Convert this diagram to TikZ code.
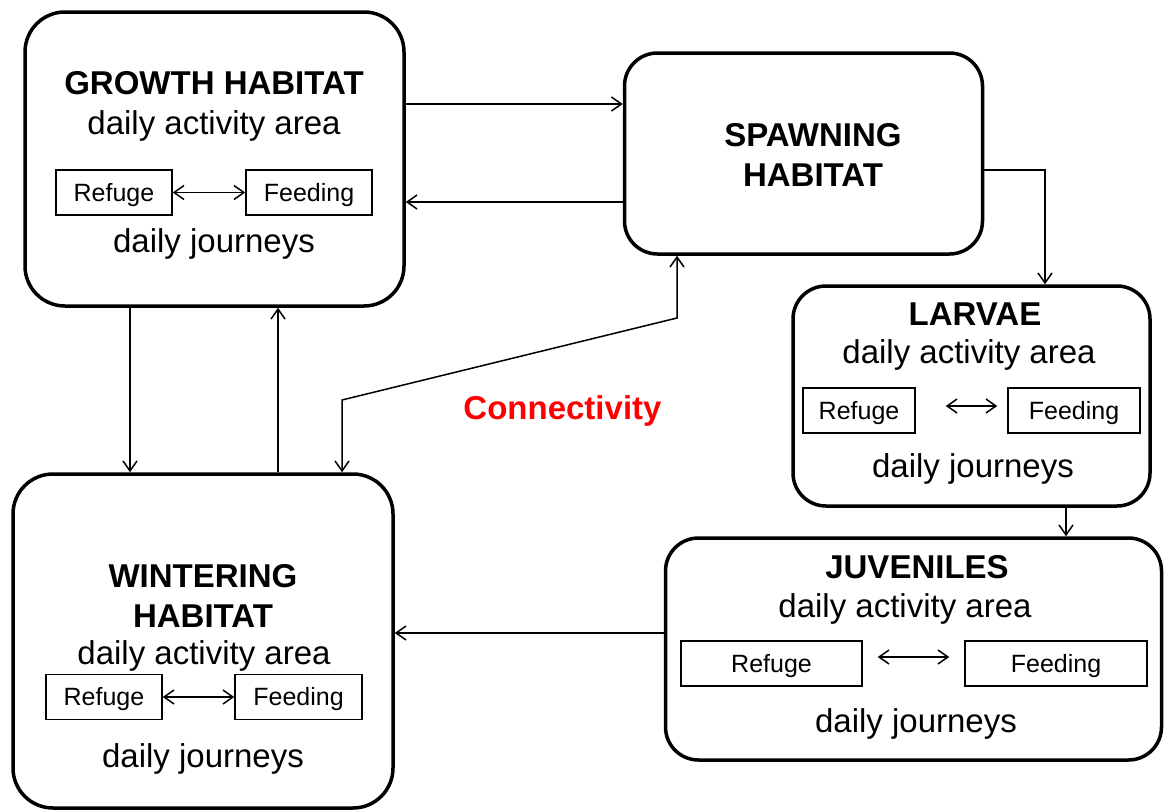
\documentclass[tikz,border=0pt]{standalone}
\usepackage{fontspec}
\setmainfont{Liberation Sans}
\usetikzlibrary{arrows.meta}

\begin{document}
\begin{tikzpicture}[x=1pt,y=-1pt,
  habitat/.style={draw,line width=3.5pt,rounded corners=40pt,inner sep=0pt},
  stage/.style={draw,line width=3.5pt,rounded corners=33pt,inner sep=0pt},
  spot/.style={draw,line width=1.5pt,inner sep=0pt,minimum height=45pt,text height=18pt,text depth=1pt,font=\fontsize{25}{30}\selectfont},
  big/.style={anchor=base,inner sep=0pt,font=\fontsize{33}{40}\selectfont},
  heading/.style={big,font=\fontsize{33}{40}\selectfont\bfseries},
  link/.style={line width=1.5pt,-{Straight Barb[length=10pt,width=14pt]}},
  twoway/.style={line width=1.5pt,{Straight Barb[length=10pt,width=14pt]}-{Straight Barb[length=10pt,width=14pt]}}]
\useasboundingbox (0,0) rectangle (1165,811);

% habitats and stages
\node (growth) [habitat,minimum width=379pt,minimum height=294pt] at (214.5,159) {};
\node (spawning) [stage,minimum width=358pt,minimum height=201pt] at (803.5,153.5) {};
\node (larvae) [stage,minimum width=357pt,minimum height=220pt] at (971.5,396) {};
\node (juveniles) [stage,minimum width=496pt,minimum height=222pt] at (913.5,649) {};
\node (wintering) [habitat,minimum width=380pt,minimum height=334pt] at (203,641) {};

% growth habitat
\node (growthT) [heading] at (214,94) {GROWTH HABITAT};
\node (growthA) [big] at (214,134) {daily activity area};
\node (growthR) [spot,minimum width=116pt] at (114,192.5) {Refuge};
\node (growthF) [spot,minimum width=126pt] at (309,192.5) {Feeding};
\node (growthJ) [big] at (214,252) {daily journeys};
\draw[twoway] (growthR) -- (growthF);

% spawning habitat
\node (spawningT) [heading] at (813,146) {SPAWNING};
\node (spawningH) [heading] at (813,186) {HABITAT};

% larvae
\node (larvaeT) [heading] at (975,325) {LARVAE};
\node (larvaeA) [big] at (969,363) {daily activity area};
\node (larvaeR) [spot,minimum width=112pt] at (859,410.5) {Refuge};
\node (larvaeF) [spot,minimum width=132pt] at (1074,410.5) {Feeding};
\node (larvaeJ) [big] at (973,477) {daily journeys};
\draw[twoway,shorten <=30pt,shorten >=10pt] ([yshift=4.5pt]larvaeR.east) -- ([yshift=4.5pt]larvaeF.west);

% juveniles
\node (juvenilesT) [heading] at (917,578) {JUVENILES};
\node (juvenilesA) [big] at (905,617) {daily activity area};
\node (juvenilesR) [spot,minimum width=181pt] at (771.5,663.5) {Refuge};
\node (juvenilesF) [spot,minimum width=182pt] at (1056,663.5) {Feeding};
\node (juvenilesJ) [big] at (916,732) {daily journeys};
\draw[twoway,shorten <=15pt,shorten >=15pt] ([yshift=6.5pt]juvenilesR.east) -- ([yshift=6.5pt]juvenilesF.west);

% wintering habitat
\node (winteringT) [heading] at (203,587) {WINTERING};
\node (winteringH) [heading] at (203,627) {HABITAT};
\node (winteringA) [big] at (204,664) {daily activity area};
\node (winteringR) [spot,minimum width=116pt] at (104,697) {Refuge};
\node (winteringF) [spot,minimum width=127pt] at (298.5,697) {Feeding};
\node (winteringJ) [big] at (203,767) {daily journeys};
\draw[twoway] (winteringR) -- (winteringF);

\node (connectivity) [heading,text=red] at (562.5,419) {Connectivity};

% migrations
\draw[link] (growth.east |- 0,104) -- (spawning.west |- 0,104);
\draw[link] (spawning.west |- 0,202) -- (growth.east |- 0,202);
\draw[link] (spawning.east |- 0,170) -| (larvae.north -| 1045,0);
\draw[link] (larvae.south -| 1066,0) -- (juveniles.north -| 1066,0);
\draw[link] (juveniles.west |- 0,633) -- (wintering.east |- 0,633);
\draw[link] (growth.south -| 130,0) -- (wintering.north -| 130,0);
\draw[link] (wintering.north -| 278,0) -- (growth.south -| 278,0);
\draw[twoway] (spawning.south -| 677,0) -- (677,318) -- (342,400) -- (wintering.north -| 342,0);
\end{tikzpicture}
\end{document}
